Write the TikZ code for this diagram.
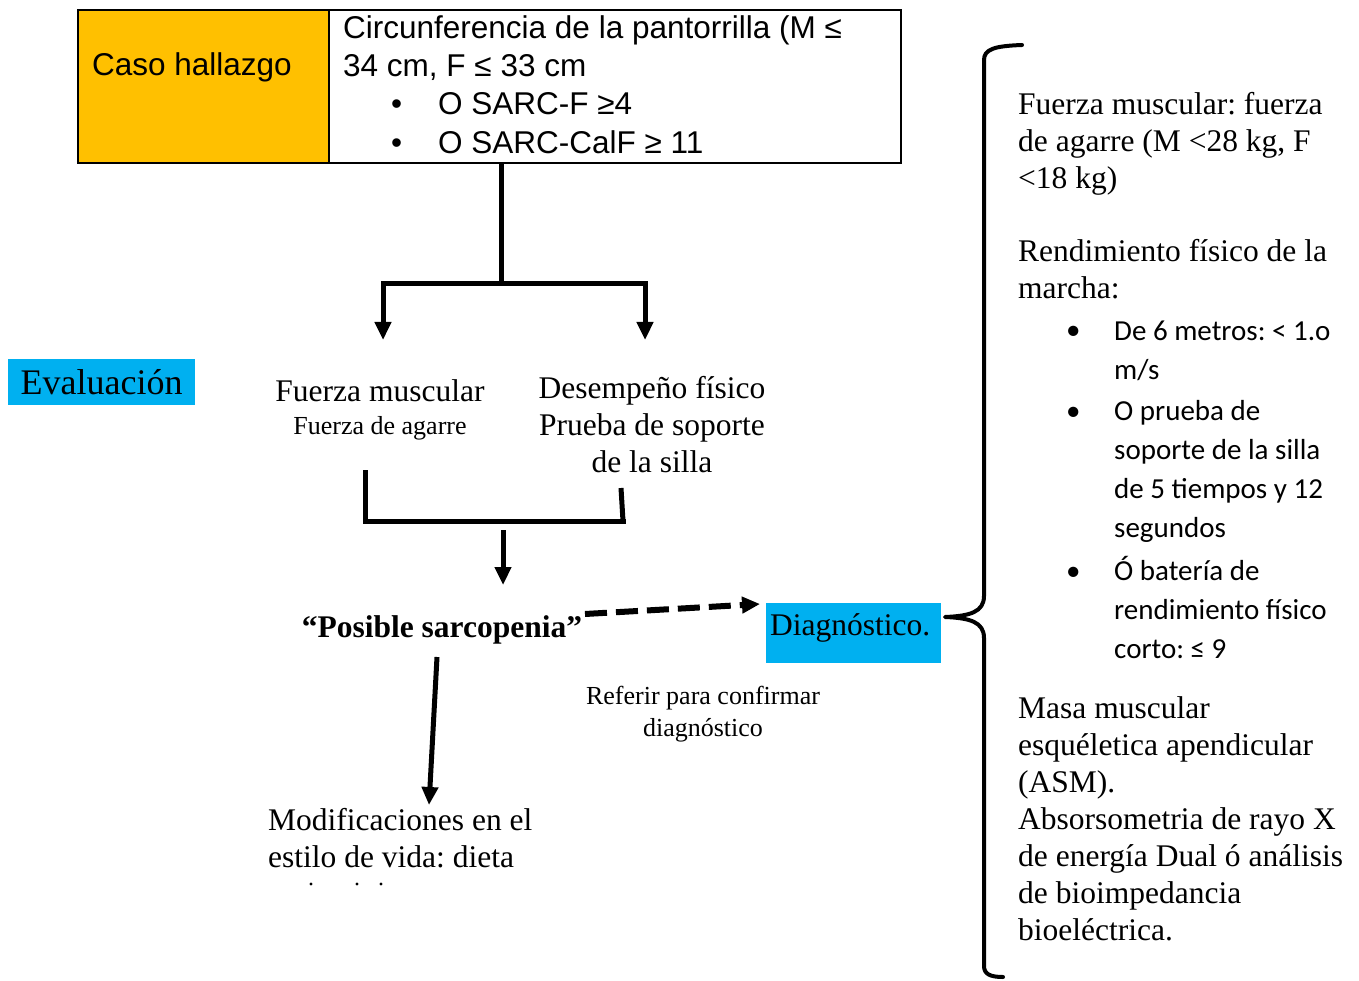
\documentclass[tikz,border=0pt]{standalone}
\usepackage{fontspec}
\setmainfont{Liberation Serif}
\newfontfamily\arialfont{Liberation Sans}
\newfontfamily\calibrifont{Carlito}
\usepackage{xcolor}
\usepackage{tikz}
\usetikzlibrary{positioning,arrows.meta}
\definecolor{casoorange}{HTML}{FFC000}
\definecolor{evalblue}{HTML}{00B0F0}
\frenchspacing

\tikzset{
  cell/.style={draw=black, line width=2pt, anchor=north west, inner sep=0pt},
  arialtxt/.style={font=\arialfont\fontsize{31.5}{38}\selectfont, inner sep=0pt, align=left},
  serif/.style={font=\fontsize{31.5}{37}\selectfont, inner sep=0pt, align=left},
  smallserif/.style={font=\fontsize{26}{32}\selectfont, inner sep=0pt, align=center},
  calib/.style={font=\calibrifont\fontsize{29}{39}\selectfont, inner sep=0pt, align=left},
  thickbar/.style={line width=5pt},
  arrowtip/.style={-{Triangle[length=18pt,width=16pt]}},
  bracestroke/.style={line width=4pt, line join=round, line cap=round}
}

\begin{document}
\begin{tikzpicture}[x=1pt,y=-1pt]
\useasboundingbox (0,0) rectangle (1359,981);

\node[cell, fill=casoorange, minimum width=251pt, minimum height=153pt] (caso) at (77,9) {};
\node[cell, minimum width=572pt, minimum height=153pt] (crit) at (328,9) {};
\node[arialtxt, anchor=base west] (casotxt) at (92,76) {Caso hallazgo};
\node[arialtxt, anchor=base west] (crittxt) at (343,77) {Circunferencia de la pantorrilla (M ≤\\34 cm, F ≤ 33 cm};
\node[arialtxt, anchor=base west] (sarcf) at (438,115) {O SARC-F ≥4};
\node[arialtxt, anchor=base west] (sarccalf) at (438,154) {O SARC-CalF ≥ 11};
\node[arialtxt, anchor=base west] (dotA) at (391,115) {•};
\node[arialtxt, anchor=base west] (dotB) at (391,154) {•};

\node[fill=evalblue, font=\fontsize{36}{40}\selectfont, minimum width=187pt, minimum height=46pt, inner sep=0pt, anchor=north west] (eval) at (8,359) {Evaluación};

\node[serif, anchor=base] (fuerza) at (380,401) {Fuerza muscular};
\node[smallserif, anchor=base] (agarre) at (380,434) {Fuerza de agarre};
\node[serif, align=center, anchor=base] (desemp) at (652,472) {Desempeño físico\\Prueba de soporte\\de la silla};

\node[serif, font=\bfseries\fontsize{31.5}{37}\selectfont, anchor=base] (posible) at (442,637) {“Posible sarcopenia”};
\node[fill=evalblue, minimum width=175pt, minimum height=60pt, inner sep=0pt, anchor=north west] (diag) at (766,603) {};
\node[serif, anchor=base west] (diagtxt) at (770,635) {Diagnóstico.};
\node[smallserif, anchor=base] (referir) at (703,736) {Referir para confirmar\\diagnóstico};
\node[serif, anchor=base west] (modif) at (268,867) {Modificaciones en el\\estilo de vida: dieta};
\fill (311,884) circle (1.6pt) (357,884) circle (1.6pt) (381,884) circle (1.6pt);

\coordinate (split) at (501,284);
\coordinate (leftend) at (383,340);
\coordinate (rightend) at (645,340);
\draw[thickbar] (crit.south -| split) -- (split);
\draw[thickbar, arrowtip] (split) -| (leftend);
\draw[thickbar, arrowtip] (split) -| (rightend);

\coordinate (fuerzaleg) at (365,470);
\coordinate (desempleg) at (621,488);
\coordinate (merge) at (503,530);
\coordinate (mergeend) at (503,585);
\draw[thickbar] (fuerzaleg) -- (365,521) -- (626,521);
\draw[thickbar] (desempleg) -- (623,521);
\draw[thickbar, arrowtip] (merge) -- (mergeend);

\coordinate (dashstart) at (585,614);
\coordinate (dashend) at (760,604);
\draw[line width=6pt, dash pattern=on 22pt off 9pt, arrowtip] (dashstart) -- (dashend);

\coordinate (downstart) at (437,657);
\coordinate (downend) at (429,805);
\draw[thickbar, arrowtip] (downstart) -- (downend);

\coordinate (bracetip) at (945,617);
\draw[bracestroke] (1022,45) .. controls (995,46) and (984,49) .. (984,60) -- (984,596)
  .. controls (984,612) and (970,616) .. (bracetip)
  .. controls (970,618) and (984,622) .. (984,638) -- (984,966)
  .. controls (984,974) and (990,977) .. (1003,977);

\node[serif, anchor=base west] (fuerzacrit) at (1018,189) {Fuerza muscular: fuerza\\de agarre (M <28 kg, F\\<18 kg)};
\node[serif, anchor=base west] (marcha) at (1018,299) {Rendimiento físico de la\\marcha:};
\node[calib, anchor=base west] (metros) at (1114,379) {De 6 metros: < 1.o\\m/s};
\node[calib, anchor=base west] (silla) at (1114,537) {O prueba de\\soporte de la silla\\de 5 tiempos y 12\\segundos};
\node[calib, anchor=base west] (bateria) at (1114,658) {Ó batería de\\rendimiento físico\\corto: ≤ 9};
\node[calib, anchor=base west] (dotC) at (1066,340) {•};
\node[calib, anchor=base west] (dotD) at (1066,420) {•};
\node[calib, anchor=base west] (dotE) at (1066,580) {•};
\node[serif, anchor=base west] (masa) at (1018,940) {Masa muscular\\esquéletica apendicular\\(ASM).\\Absorsometria de rayo X\\de energía Dual ó análisis\\de bioimpedancia\\bioeléctrica.};
\end{tikzpicture}
\end{document}
